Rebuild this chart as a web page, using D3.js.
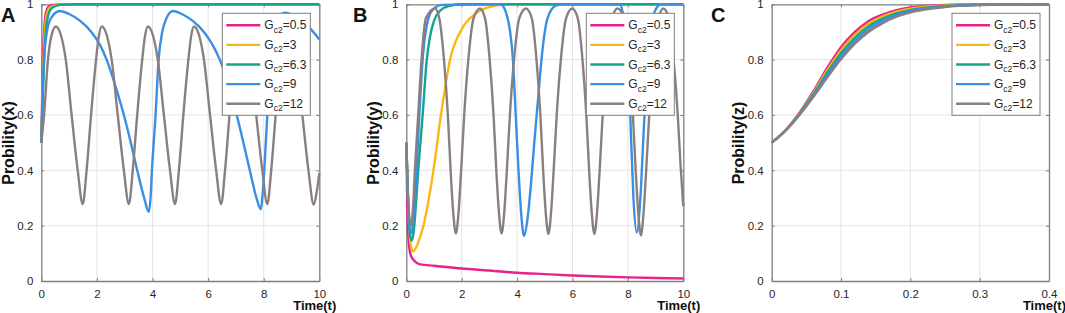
<!DOCTYPE html>
<html>
<head>
<meta charset="utf-8">
<script src="https://cdn.jsdelivr.net/npm/d3@7"></script>
<style>
  body { margin: 0; background: #fff; }
  text { font-family: "Liberation Sans", Arial, sans-serif; fill: #262626; }
</style>
</head>
<body>
<svg id="chart" width="1065" height="313"></svg>
<script>
// legend labels (Gc2 values) and series colours
const gLabels = ["0.5", "3", "6.3", "9", "12"];
const colors = ["#e8228b", "#fbb714", "#17a589", "#3b8fe3", "#8a7f80"];

// tick values
const yTicks = [0, 0.2, 0.4, 0.6, 0.8, 1];
const xTicksAB = [0, 2, 4, 6, 8, 10];
const xTicksC = [0, 0.1, 0.2, 0.3, 0.4];

// ---- panel A : Probility(x) ----
const aPink = [[0,0.5],[0.03,0.65],[0.06,0.8],[0.11,0.92],[0.18,0.975],[0.28,0.993],[0.5,0.999],[0.9,1],[10,1]];
const aYellow = [[0,0.5],[0.04,0.65],[0.08,0.8],[0.13,0.91],[0.21,0.968],[0.33,0.99],[0.6,0.998],[1.1,1],[10,1]];
const aGreen = [[0,0.5],[0.05,0.65],[0.1,0.8],[0.16,0.9],[0.25,0.96],[0.4,0.988],[0.7,0.998],[1.3,1],[10,1]];
const aBlue = [[0,0.5],[0.05,0.68],[0.1,0.8],[0.2,0.9],[0.35,0.95],[0.66,0.976],[1.0,0.965],[1.4,0.94],[1.8,0.9],
  [2.1,0.855],[2.35,0.8],[2.68,0.7],[2.97,0.6],[3.22,0.5],[3.45,0.4],[3.7,0.3],[3.87,0.25],[3.93,0.3],[3.98,0.4],
  [4.11,0.6],[4.22,0.8],[4.35,0.9],[4.5,0.95],[4.74,0.976],[5.05,0.965],[5.45,0.94],[5.85,0.9],[6.15,0.855],[6.42,0.8],
  [6.76,0.7],[7.03,0.6],[7.27,0.5],[7.5,0.4],[7.74,0.3],[7.9,0.259],[7.95,0.3],[8.02,0.4],[8.13,0.6],[8.25,0.8],
  [8.37,0.9],[8.52,0.95],[8.77,0.97],[9.2,0.95],[9.6,0.92],[10,0.873]];
const aGray = [[0,0.5],[0.1,0.6],[0.24,0.8],[0.36,0.885],[0.52,0.92],[0.7,0.89],[0.88,0.8],[1.09,0.6],[1.31,0.4],
  [1.49,0.278],[1.63,0.4],[1.79,0.6],[1.97,0.8],[2.07,0.885],[2.17,0.92],[2.35,0.89],[2.53,0.8],[2.75,0.6],[2.97,0.4],
  [3.15,0.278],[3.29,0.4],[3.45,0.6],[3.63,0.8],[3.73,0.885],[3.83,0.92],[4.01,0.89],[4.19,0.8],[4.41,0.6],[4.63,0.4],
  [4.81,0.278],[4.95,0.4],[5.11,0.6],[5.29,0.8],[5.39,0.885],[5.49,0.92],[5.67,0.89],[5.85,0.8],[6.07,0.6],[6.29,0.4],
  [6.47,0.278],[6.61,0.4],[6.77,0.6],[6.95,0.8],[7.05,0.885],[7.15,0.92],[7.33,0.89],[7.51,0.8],[7.73,0.6],[7.95,0.4],
  [8.13,0.278],[8.27,0.4],[8.43,0.6],[8.61,0.8],[8.71,0.885],[8.81,0.92],[8.99,0.89],[9.17,0.8],[9.39,0.6],[9.61,0.4],
  [9.8,0.276],[9.92,0.33],[10,0.39]];

// ---- panel B : Probility(y) ----
const bPink = [[0,0.5],[0.04,0.25],[0.08,0.15],[0.13,0.105],[0.2,0.085],[0.3,0.072],[0.5,0.06],[1,0.055],[2,0.045],
  [3,0.038],[4,0.03],[5,0.025],[6,0.02],[7,0.016],[8,0.013],[9,0.011],[10,0.009]];
const bYellow = [[0,0.5],[0.08,0.25],[0.15,0.14],[0.24,0.106],[0.35,0.12],[0.5,0.16],[0.62,0.2],[0.8,0.29],[0.98,0.4],
  [1.25,0.6],[1.58,0.8],[2.0,0.91],[2.48,0.965],[3.1,0.993],[3.6,1],[10,1]];
const bGreen = [[0,0.5],[0.07,0.27],[0.13,0.17],[0.2,0.146],[0.27,0.18],[0.35,0.28],[0.43,0.4],[0.51,0.5],[0.59,0.6],
  [0.74,0.8],[0.85,0.88],[1.0,0.94],[1.2,0.975],[1.5,0.993],[2,1],[10,1]];
const bBlue = [[0,0.5],[0.07,0.28],[0.13,0.19],[0.19,0.172],[0.27,0.24],[0.37,0.4],[0.47,0.6],[0.59,0.8],[0.8,0.95],
  [1.0,0.985],[1.3,0.998],[3.4,1],[3.6,0.97],[3.75,0.9],[3.85,0.8],[3.95,0.6],[4.05,0.4],[4.15,0.24],[4.25,0.163],
  [4.37,0.22],[4.5,0.35],[4.62,0.5],[4.75,0.65],[4.9,0.82],[5.1,0.95],[5.4,0.995],[5.7,1],[7.7,1],[7.85,0.95],
  [7.97,0.85],[8.05,0.7],[8.12,0.5],[8.2,0.3],[8.32,0.175],[8.45,0.3],[8.55,0.5],[8.65,0.7],[8.78,0.88],[8.95,0.97],
  [9.2,1],[10,1]];
const bGray = [[0,0.5],[0.05,0.33],[0.1,0.24],[0.17,0.2],[0.24,0.26],[0.31,0.4],[0.43,0.6],[0.55,0.8],[0.71,0.95],
  [1.04,0.985],[1.19,0.95],[1.36,0.8],[1.5,0.6],[1.6,0.4],[1.7,0.24],[1.79,0.172],[1.88,0.24],[1.98,0.4],[2.09,0.6],
  [2.24,0.8],[2.43,0.95],[2.66,0.985],[2.84,0.95],[3.01,0.8],[3.15,0.6],[3.25,0.4],[3.35,0.24],[3.44,0.172],[3.53,0.24],
  [3.63,0.4],[3.74,0.6],[3.89,0.8],[4.08,0.95],[4.32,0.985],[4.53,0.95],[4.7,0.8],[4.84,0.6],[4.94,0.4],[5.04,0.24],
  [5.13,0.17],[5.22,0.24],[5.32,0.4],[5.43,0.6],[5.58,0.8],[5.77,0.95],[5.99,0.985],[6.19,0.95],[6.36,0.8],[6.5,0.6],
  [6.6,0.4],[6.7,0.24],[6.79,0.17],[6.88,0.24],[6.98,0.4],[7.09,0.6],[7.24,0.8],[7.43,0.95],[7.62,0.985],[7.87,0.95],
  [8.04,0.8],[8.18,0.6],[8.28,0.4],[8.38,0.24],[8.47,0.165],[8.56,0.24],[8.66,0.4],[8.77,0.6],[8.92,0.8],[9.11,0.95],
  [9.28,0.985],[9.48,0.95],[9.65,0.8],[9.8,0.6],[9.9,0.42],[10,0.27]];

// ---- panel C : Probility(z) ----
const cTime = [0, 0.02, 0.04, 0.06, 0.08, 0.1, 0.12, 0.14, 0.16, 0.18, 0.2, 0.25, 0.3, 0.35, 0.4];
const cPink = [0.5, 0.545, 0.608, 0.685, 0.77, 0.845, 0.9, 0.94, 0.963, 0.979, 0.989, 0.998, 1, 1, 1];
const cYellow = [0.5, 0.545, 0.606, 0.68, 0.761, 0.834, 0.89, 0.931, 0.956, 0.973, 0.984, 0.996, 0.999, 1, 1];
const cGreen = [0.5, 0.544, 0.604, 0.675, 0.752, 0.823, 0.879, 0.921, 0.948, 0.967, 0.979, 0.994, 0.998, 1, 1];
const cBlue = [0.5, 0.544, 0.602, 0.67, 0.743, 0.812, 0.868, 0.911, 0.94, 0.961, 0.975, 0.992, 0.998, 0.999, 1];
const cGray = [0.5, 0.543, 0.6, 0.665, 0.735, 0.802, 0.858, 0.901, 0.932, 0.955, 0.971, 0.99, 0.997, 0.999, 1];

const panels = [
  { letter: "A", letterX: 1, ylab: "Probility(x)", left: 41.3, right: 319.3, xMax: 10, xTicks: xTicksAB,
    series: [aPink, aYellow, aGreen, aBlue, aGray] },
  { letter: "B", letterX: 353, ylab: "Probility(y)", left: 406.3, right: 683.3, xMax: 10, xTicks: xTicksAB,
    series: [bPink, bYellow, bGreen, bBlue, bGray] },
  { letter: "C", letterX: 711, ylab: "Probility(z)", left: 771.7, right: 1049, xMax: 0.4, xTicks: xTicksC,
    series: [cPink, cYellow, cGreen, cBlue, cGray].map(v => v.map((d, i) => [cTime[i], d])) }
];

const plotTop = 4.3, plotBottom = 281;
const svg = d3.select("#chart");
svg.append("rect").attr("width", 1065).attr("height", 313).attr("fill", "#fff");

panels.forEach(p => {
  const x = d3.scaleLinear().domain([0, p.xMax]).range([p.left, p.right]);
  const y = d3.scaleLinear().domain([0, 1]).range([plotBottom, plotTop]);
  const g = svg.append("g");

  // grid
  g.append("g").selectAll("line")
    .data(p.xTicks.slice(1, -1))
    .join("line")
    .attr("x1", d => x(d)).attr("x2", d => x(d))
    .attr("y1", plotTop).attr("y2", plotBottom)
    .attr("stroke", "#e5e5e5").attr("stroke-width", 1);
  g.append("g").selectAll("line")
    .data(yTicks.slice(1, -1))
    .join("line")
    .attr("x1", p.left).attr("x2", p.right)
    .attr("y1", d => y(d)).attr("y2", d => y(d))
    .attr("stroke", "#e5e5e5").attr("stroke-width", 1);

  // axes (ticks inside, box on)
  const fmt = d => d3.format("~g")(d);
  const xAxis = g.append("g").attr("transform", `translate(0,${plotBottom})`)
    .call(d3.axisBottom(x).tickValues(p.xTicks).tickFormat(fmt).tickSizeInner(-3).tickSizeOuter(0).tickPadding(9));
  const xAxisTop = g.append("g").attr("transform", `translate(0,${plotTop})`)
    .call(d3.axisTop(x).tickValues(p.xTicks).tickFormat("").tickSizeInner(-3).tickSizeOuter(0));
  const yAxis = g.append("g").attr("transform", `translate(${p.left},0)`)
    .call(d3.axisLeft(y).tickValues(yTicks).tickFormat(fmt).tickSizeInner(-3).tickSizeOuter(0).tickPadding(8));
  const yAxisR = g.append("g").attr("transform", `translate(${p.right},0)`)
    .call(d3.axisRight(y).tickValues(yTicks).tickFormat("").tickSizeInner(-3).tickSizeOuter(0));
  [xAxis, xAxisTop, yAxis, yAxisR].forEach(a => {
    a.select(".domain").attr("stroke", "#7f7f7f").attr("stroke-width", 1.3);
    a.selectAll(".tick line").attr("stroke", "#7f7f7f");
    a.selectAll(".tick text").attr("font-size", 11.5).attr("fill", "#262626")
      .attr("font-family", '"Liberation Sans", Arial, sans-serif');
  });

  // curves
  const line = d3.line()
    .x(d => x(d[0]))
    .y(d => y(d[1]))
    .curve(d3.curveMonotoneX);
  g.append("g").selectAll("path")
    .data(p.series)
    .join("path")
    .attr("d", line)
    .attr("fill", "none")
    .attr("stroke", (d, i) => colors[i])
    .attr("stroke-width", 2.4)
    .attr("stroke-linejoin", "round");

  // labels
  g.append("text").text(p.letter)
    .attr("x", p.letterX).attr("y", 22)
    .attr("font-size", 20).attr("font-weight", "bold").style("fill", "#111");
  g.append("text").text("Time(t)")
    .attr("x", p.right + 17).attr("y", 310)
    .attr("text-anchor", "end")
    .attr("font-size", 13).attr("font-weight", "bold").style("fill", "#111");
  g.append("text").text(p.ylab)
    .attr("transform", `translate(${p.left - 27.5},143) rotate(-90)`)
    .attr("text-anchor", "middle")
    .attr("font-size", 16).attr("font-weight", "bold").style("fill", "#111");

  // legend
  const lw = 88, lh = 102, lx = p.right - lw - 9, ly = plotTop + 9;
  const leg = g.append("g").attr("transform", `translate(${lx},${ly})`);
  leg.append("rect").attr("width", lw).attr("height", lh)
    .attr("fill", "#fff").attr("stroke", "#7f7f7f").attr("stroke-width", 1);
  const rows = leg.selectAll("g.row")
    .data(gLabels)
    .join("g")
    .attr("class", "row")
    .attr("transform", (d, i) => `translate(0,${12 + i * 19.6})`);
  rows.append("line")
    .attr("x1", 4).attr("x2", 38)
    .attr("stroke", (d, i) => colors[i]).attr("stroke-width", 2.4);
  const t = rows.append("text").attr("x", 42).attr("y", 4).attr("font-size", 12);
  t.append("tspan").text("G");
  t.append("tspan").text("c2").attr("font-size", 8.5).attr("dy", 3.5);
  t.append("tspan").text(d => "=" + d).attr("dy", -3.5);
});
</script>
</body>
</html>
